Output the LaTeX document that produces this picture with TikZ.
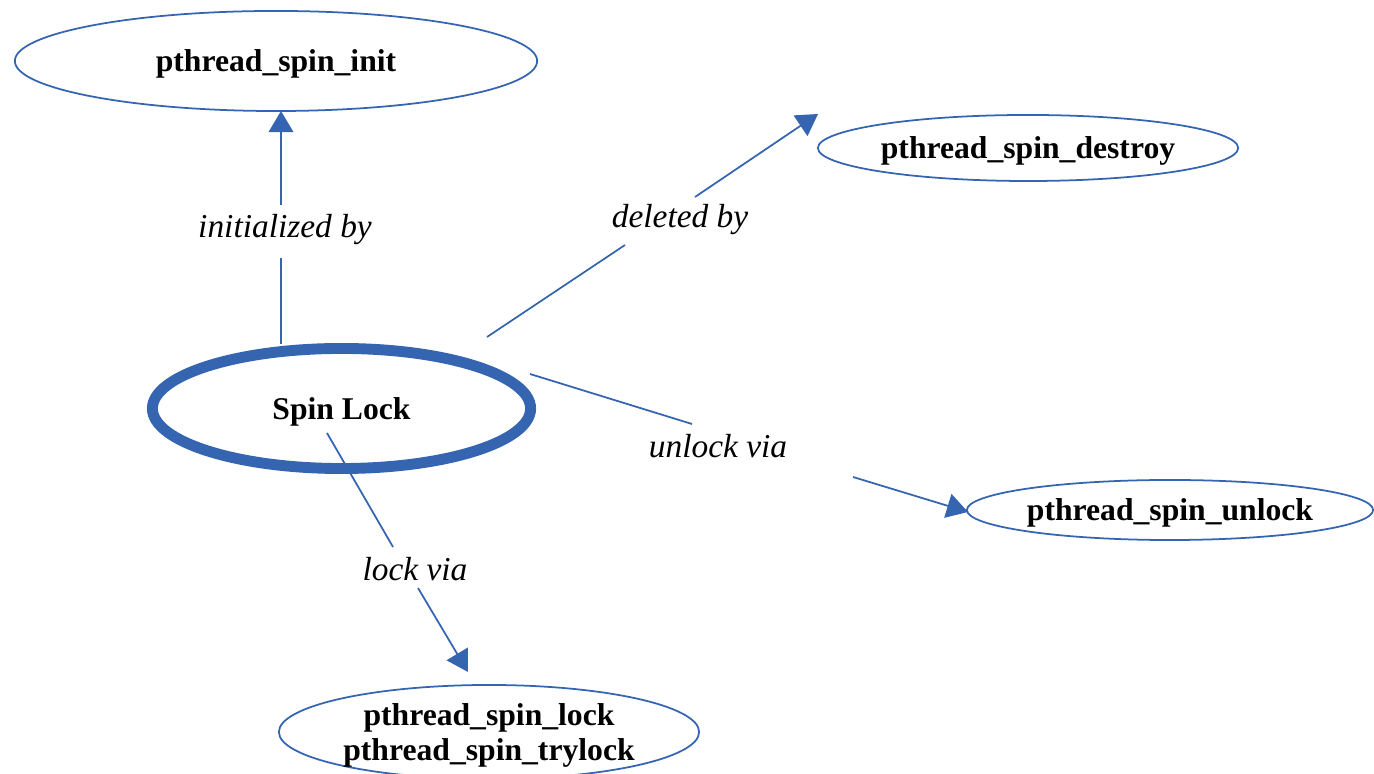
\documentclass[tikz,border=0pt]{standalone}
\usepackage{fontspec}
\setmainfont{Liberation Serif}
\usetikzlibrary{shapes.geometric,arrows.meta}
\definecolor{lineblue}{HTML}{3565B0}
\tikzset{
  ell/.style={ellipse, draw=lineblue, line width=0.5pt, inner sep=0pt, align=center,
    text depth=0pt, font=\fontsize{9}{10}\selectfont\bfseries},
  conn/.style={draw=lineblue, line width=0.5pt},
  arr/.style={conn, -{Triangle[length=6pt,width=7pt]}, lineblue},
  lbl/.style={font=\fontsize{9.5}{11}\selectfont\itshape, inner sep=0pt}
}
\begin{document}
\begin{tikzpicture}[x=0.01cm,y=-0.01cm]
\useasboundingbox (0,0) rectangle (1374,774);
% nodes
\node[ell, minimum width=5.22cm, minimum height=1.0cm] (init) at (276,61) {pthread\_spin\_init};
\node[ell, minimum width=4.2cm, minimum height=0.66cm] (destroy) at (1028,148) {pthread\_spin\_destroy};
\node[ell, line width=3.1pt, minimum width=3.78cm, minimum height=1.2cm] (spin) at (341.5,408.5) {Spin Lock};
\node[ell, minimum width=4.06cm, minimum height=0.6cm] (unlock) at (1170,510) {pthread\_spin\_unlock};
\node[ell, minimum width=4.2cm, minimum height=0.94cm] (lock) at (489,732) {pthread\_spin\_lock\\pthread\_spin\_trylock};
% labels
\node[lbl] (linit) at (285,230) {initialized by};
\node[lbl] (ldel) at (680,220) {deleted by};
\node[lbl] (lunl) at (718,446) {unlock via};
\node[lbl] (llock) at (415,569) {lock via};
% connector end points
\coordinate (s1) at (281,344); \coordinate (g1a) at (281,258); \coordinate (g1b) at (281,205); \coordinate (t1) at (281,111);
\coordinate (s2) at (487,337); \coordinate (g2a) at (625,245); \coordinate (g2b) at (695,197); \coordinate (t2) at (818,114);
\coordinate (s3) at (530,374); \coordinate (g3a) at (692,424); \coordinate (g3b) at (853,477); \coordinate (t3) at (968,512);
\coordinate (s4) at (327,433); \coordinate (g4a) at (393,547); \coordinate (g4b) at (418,588); \coordinate (t4) at (468,672);
% connectors
\draw[conn] (s1) -- (g1a); \draw[arr] (g1b) -- (t1);
\draw[conn] (s2) -- (g2a); \draw[arr] (g2b) -- (t2);
\draw[conn] (s3) -- (g3a); \draw[arr] (g3b) -- (t3);
\draw[conn] (s4) -- (g4a); \draw[arr] (g4b) -- (t4);
\end{tikzpicture}
\end{document}
